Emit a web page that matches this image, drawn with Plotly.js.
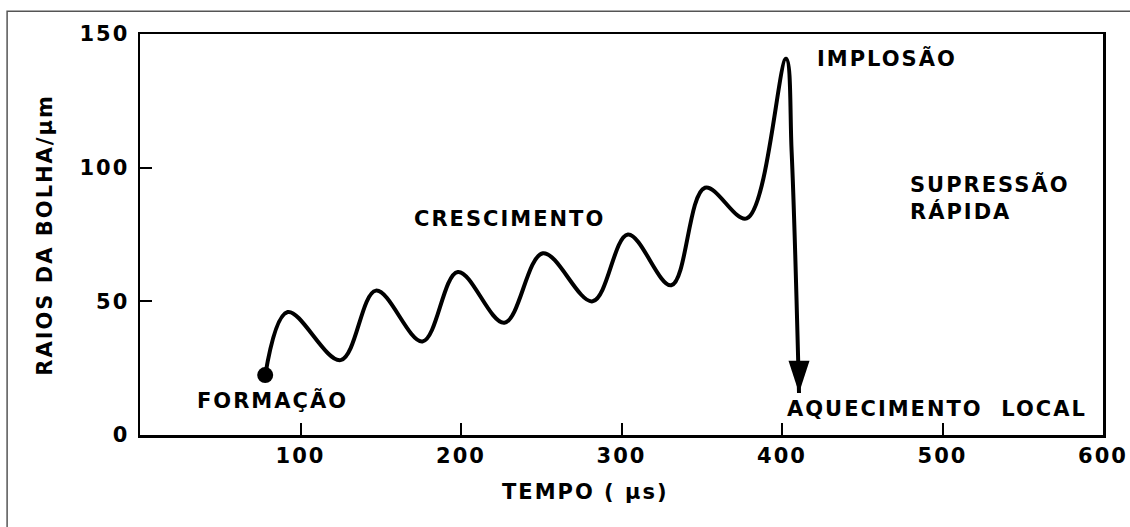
<!DOCTYPE html>
<html>
<head>
<meta charset="utf-8">
<script src="https://cdn.plot.ly/plotly-3.0.1.min.js"></script>
<style>
  html, body { margin: 0; padding: 0; background: #fff; }
  #chart { width: 1130px; height: 527px; }
  .annotation-text, .xtick text, .ytick text { letter-spacing: 2px; }
</style>
</head>
<body>
<div id="chart"></div>
<script>
// Bubble radius (µm) vs time (µs)
const time   = [78, 92, 125, 147, 176, 198, 227, 251, 282, 304, 331, 352, 378, 402.5, 406, 410.6];
const radius = [22.4, 46, 28, 54, 35, 61, 42, 68, 50, 75, 56, 92.5, 81, 140.7, 106, 15.7];

const xTicks = [100, 200, 300, 400, 500, 600];
const yTicks = [0, 50, 100, 150];

const xTitle = "TEMPO ( &mu;s)";
const yTitle = "RAIOS DA BOLHA/&mu;m";

const stageLabels = ["FORMAÇÃO", "CRESCIMENTO", "IMPLOSÃO", "SUPRESSÃO<br>RÁPIDA", "AQUECIMENTO&nbsp;&nbsp;LOCAL"];

const FONT = "DejaVu Sans, Liberation Sans, sans-serif";
const n = time.length;

const curve = {
  x: time, y: radius,
  type: "scatter", mode: "lines",
  line: {color: "#000", width: 4, shape: "spline", smoothing: 1},
  hoverinfo: "skip", showlegend: false
};
// start dot (formation) and arrow head (end of implosion), taken from the same arrays
const startDot = {
  x: [time[0]], y: [radius[0]], type: "scatter", mode: "markers",
  marker: {color: "#000", size: 16, symbol: "circle", opacity: 1, line: {width: 0}},
  hoverinfo: "skip", showlegend: false
};
const endArrow = {
  x: [time[n - 1]], y: [radius[n - 1]], type: "scatter", mode: "markers",
  marker: {color: "#000", size: 34, symbol: "arrow", angle: 180, opacity: 1, line: {width: 0}},
  hoverinfo: "skip", showlegend: false
};

const tfont = {family: FONT, size: 21, color: "#000", weight: "bold"};

const layout = {
  width: 1130, height: 527,
  margin: {l: 140, r: 27, t: 34, b: 92},
  paper_bgcolor: "#fff", plot_bgcolor: "#fff",
  showlegend: false,
  xaxis: {
    range: [0, 600], tickvals: xTicks, ticktext: xTicks.map(String),
    ticks: "inside", ticklen: 12, tickwidth: 2, tickcolor: "#000",
    showline: true, linecolor: "#000", linewidth: 2.5, mirror: true,
    showgrid: false, zeroline: false,
    tickfont: {family: FONT, size: 21, color: "#000", weight: "bold"},
    ticklabelstandoff: 0
  },
  yaxis: {
    range: [0, 150], tickvals: yTicks, ticktext: yTicks.map(String),
    ticks: "inside", ticklen: 12, tickwidth: 2, tickcolor: "#000",
    showline: true, linecolor: "#000", linewidth: 2.5, mirror: true,
    showgrid: false, zeroline: false,
    tickfont: {family: FONT, size: 21, color: "#000", weight: "bold"},
    ticklabelstandoff: 4
  },
  shapes: [
    {type: "rect", xref: "paper", yref: "paper", x0: -0.138, x1: 1.05, y0: -0.3, y1: 1.057,
     line: {color: "#555", width: 1.5}, fillcolor: "rgba(0,0,0,0)", layer: "below"}
  ],
  annotations: [
    {text: stageLabels[0], x: 82.6, y: 12.9, xref: "x", yref: "y", showarrow: false, font: tfont},
    {text: stageLabels[1], x: 230, y: 80.8, xref: "x", yref: "y", showarrow: false, font: tfont},
    {text: stageLabels[2], x: 465.7, y: 140.7, xref: "x", yref: "y", showarrow: false, font: tfont},
    {text: stageLabels[3], x: 478.5, y: 88.5, xref: "x", yref: "y", showarrow: false, font: tfont, xanchor: "left", align: "left"},
    {text: stageLabels[4], x: 402, y: 9.7, xref: "x", yref: "y", showarrow: false, font: tfont, xanchor: "left"},
    {text: xTitle, x: 0.463, y: -0.142, xref: "paper", yref: "paper", showarrow: false, font: tfont, yanchor: "middle"},
    {text: yTitle, x: -0.114, y: 0.5, xref: "paper", yref: "paper", showarrow: false, font: tfont, textangle: -90}
  ]
};

Plotly.newPlot("chart", [curve, startDot, endArrow], layout, {staticPlot: true, displayModeBar: false});
</script>
</body>
</html>
